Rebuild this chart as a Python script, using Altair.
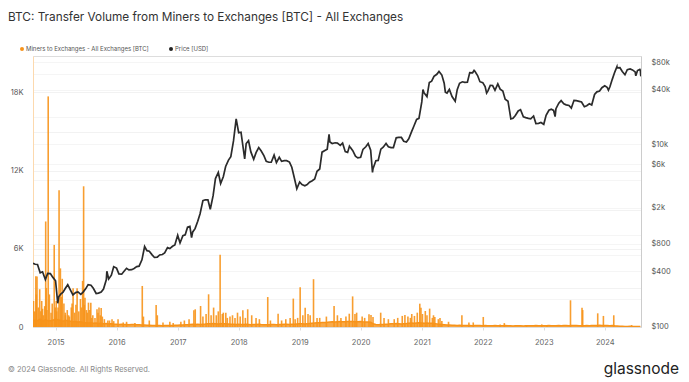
import altair as alt
import pandas as pd

# ---------------- data ----------------
price_dates = [
    "2014-08-19", "2014-09-01", "2014-09-15", "2014-10-01", "2014-10-15", "2014-11-01", "2014-11-15", "2014-12-01", "2014-12-15",
    "2015-01-01", "2015-01-14", "2015-01-20", "2015-02-01", "2015-02-15", "2015-03-01", "2015-03-15", "2015-04-01", "2015-04-15",
    "2015-05-01", "2015-05-15", "2015-06-01", "2015-06-15", "2015-07-01", "2015-07-15", "2015-08-01", "2015-08-15", "2015-09-01",
    "2015-09-15", "2015-10-01", "2015-10-15", "2015-11-01", "2015-11-04", "2015-11-15", "2015-12-01", "2015-12-15",
    "2016-01-01", "2016-01-15", "2016-02-01", "2016-02-15", "2016-03-01", "2016-03-15", "2016-04-01", "2016-04-15", "2016-05-01",
    "2016-05-15", "2016-06-01", "2016-06-17", "2016-07-01", "2016-07-15", "2016-08-01", "2016-08-15", "2016-09-01", "2016-09-15",
    "2016-10-01", "2016-10-15", "2016-11-01", "2016-11-15", "2016-12-01", "2016-12-15",
    "2017-01-01", "2017-01-15", "2017-02-01", "2017-02-15", "2017-03-01", "2017-03-15", "2017-03-25", "2017-04-01", "2017-04-15",
    "2017-05-01", "2017-05-15", "2017-06-01", "2017-06-15", "2017-07-01", "2017-07-15", "2017-08-01", "2017-08-15", "2017-09-01",
    "2017-09-15", "2017-10-01", "2017-10-15", "2017-11-01", "2017-11-15", "2017-12-01", "2017-12-17",
    "2018-01-01", "2018-01-15", "2018-02-06", "2018-02-15", "2018-03-01", "2018-03-15", "2018-04-01", "2018-04-15", "2018-05-01",
    "2018-05-15", "2018-06-01", "2018-06-15", "2018-07-01", "2018-07-15", "2018-08-01", "2018-08-15", "2018-09-01", "2018-09-15",
    "2018-10-01", "2018-10-15", "2018-11-01", "2018-11-15", "2018-12-01", "2018-12-15",
    "2019-01-01", "2019-01-15", "2019-02-01", "2019-02-15", "2019-03-01", "2019-03-15", "2019-04-01", "2019-04-15", "2019-05-01",
    "2019-05-15", "2019-06-01", "2019-06-15", "2019-06-26", "2019-07-01", "2019-07-15", "2019-08-01", "2019-08-15", "2019-09-01",
    "2019-09-15", "2019-10-01", "2019-10-15", "2019-10-26", "2019-11-01", "2019-11-15", "2019-12-01", "2019-12-15",
    "2020-01-01", "2020-01-15", "2020-02-01", "2020-02-15", "2020-03-01", "2020-03-12", "2020-03-15", "2020-04-01", "2020-04-15",
    "2020-05-01", "2020-05-15", "2020-06-01", "2020-06-15", "2020-07-01", "2020-07-15", "2020-08-01", "2020-08-15", "2020-09-01",
    "2020-09-15", "2020-10-01", "2020-10-15", "2020-11-01", "2020-11-15", "2020-12-01", "2020-12-15",
    "2021-01-01", "2021-01-08", "2021-01-15", "2021-02-01", "2021-02-15", "2021-03-01", "2021-03-15", "2021-04-01", "2021-04-14",
    "2021-05-01", "2021-05-15", "2021-05-22", "2021-06-01", "2021-06-15", "2021-07-01", "2021-07-20", "2021-08-01", "2021-08-15",
    "2021-09-01", "2021-09-15", "2021-10-01", "2021-10-15", "2021-11-01", "2021-11-10", "2021-11-15", "2021-12-01", "2021-12-15",
    "2022-01-01", "2022-01-15", "2022-01-24", "2022-02-01", "2022-02-15", "2022-03-01", "2022-03-15", "2022-04-01", "2022-04-15",
    "2022-05-01", "2022-05-15", "2022-06-01", "2022-06-18", "2022-07-01", "2022-07-15", "2022-08-01", "2022-08-15", "2022-09-01",
    "2022-09-15", "2022-10-01", "2022-10-15", "2022-11-01", "2022-11-15", "2022-12-01", "2022-12-15",
    "2023-01-01", "2023-01-15", "2023-02-01", "2023-02-15", "2023-03-01", "2023-03-10", "2023-03-15", "2023-04-01", "2023-04-15",
    "2023-05-01", "2023-05-15", "2023-06-01", "2023-06-15", "2023-07-01", "2023-07-15", "2023-08-01", "2023-08-15", "2023-09-01",
    "2023-09-15", "2023-10-01", "2023-10-15", "2023-11-01", "2023-11-15", "2023-12-01", "2023-12-15",
    "2024-01-01", "2024-01-15", "2024-01-23", "2024-02-01", "2024-02-15", "2024-03-01", "2024-03-14", "2024-03-15", "2024-04-01",
    "2024-04-15", "2024-05-01", "2024-05-15", "2024-06-01", "2024-06-15", "2024-07-01", "2024-07-05", "2024-07-15", "2024-07-29",
    "2024-08-01", "2024-08-04",
]
price_values = [
    490, 478, 475, 385, 395, 325, 380, 378, 345,
    315, 178, 210, 225, 235, 260, 285, 247, 220,
    233, 237, 223, 236, 258, 285, 281, 260, 228,
    230, 237, 255, 325, 400, 330, 362, 450,
    434, 375, 372, 400, 432, 415, 417, 430, 450,
    456, 535, 750, 675, 665, 607, 568, 572, 606,
    613, 638, 730, 711, 755, 780,
    998, 820, 985, 1010, 1222, 1250, 940, 1085, 1180,
    1420, 1720, 2400, 2450, 2450, 1930, 2720, 4200, 4900,
    3700, 4400, 5700, 6700, 7300, 10900, 19100,
    13400, 13600, 6900, 10200, 10950, 8250, 6850, 8100, 9200,
    8500, 7500, 6500, 6350, 6350, 7600, 6300, 7200, 6500,
    6600, 6600, 6380, 5600, 4200, 3250,
    3850, 3600, 3500, 3600, 3830, 3950, 4150, 5050, 5350,
    8200, 8550, 8850, 12900, 10600, 10200, 10400, 10300, 9750,
    10300, 8300, 8150, 9550, 9200, 8500, 7400, 7100,
    7200, 8800, 9400, 10200, 8600, 4900, 5400, 6600, 6650,
    8850, 9300, 10200, 9400, 9200, 9200, 11800, 11900, 11900,
    10800, 10600, 11500, 13800, 15900, 18800, 19300,
    29300, 40000, 36800, 33500, 48000, 49600, 55900, 59000, 63500,
    57800, 47000, 37500, 36700, 40200, 33600, 29800, 39900, 47000,
    48800, 48100, 48200, 61600, 61300, 65000, 63600, 57200, 48900,
    47700, 43100, 36600, 38700, 44500, 44400, 39300, 46300, 40500,
    38500, 31300, 29800, 19000, 19300, 20800, 23300, 24100, 20100,
    19700, 19300, 19100, 20500, 16900, 17000, 17400,
    16600, 20900, 23700, 24300, 23600, 20200, 24700, 28400, 30300,
    28000, 27200, 26800, 25100, 30500, 30300, 29700, 29200, 25900,
    26600, 27900, 27100, 35400, 37800, 38700, 42000,
    44100, 42500, 39500, 43000, 51900, 62400, 71400, 69400, 69700,
    63400, 58300, 66300, 67700, 66000, 62700, 56700, 64800, 66800,
    65300, 56000,
]

# semi-monthly baseline of miner -> exchange flows (BTC)
base_dates = pd.date_range("2014-08-15", "2024-08-01", freq="SMS")
base_values = [
    500, 520, 480, 600, 450, 550, 500, 480, 520,
    600, 550, 500, 450, 520, 480, 450, 400, 420, 380, 400, 350, 330, 300, 320, 280, 300, 260, 280, 250, 260, 240, 250, 230,
    220, 200, 210, 190, 200, 180, 190, 200, 180, 170, 160, 150, 140, 130, 120, 110, 120, 110, 100, 110, 120, 110, 120, 130,
    140, 150, 160, 170, 180, 200, 220, 200, 210, 190, 220, 230, 250, 240, 260, 250, 230, 250, 260, 240, 230, 220, 210, 200,
    220, 200, 190, 210, 200, 180, 190, 200, 210, 190, 180, 170, 180, 190, 200, 180, 190, 200, 210, 220, 200, 210, 220, 230,
    240, 250, 230, 240, 260, 280, 300, 320, 330, 340, 350, 360, 380, 400, 390, 410, 420, 400, 410, 420, 430, 420, 410, 400,
    420, 400, 390, 380, 360, 250, 200, 180, 190, 200, 220, 230, 250, 240, 260, 250, 230, 250, 260, 280, 300, 280, 300, 320,
    300, 280, 300, 290, 280, 260, 240, 220, 200, 180, 160, 150, 140, 130, 120, 130, 120, 110, 120, 110, 100, 110, 120, 110,
    100, 110, 100, 90, 100, 110, 100, 90, 100, 110, 100, 90, 80, 90, 100, 90, 80, 90, 100, 90, 100, 110, 100, 90,
    90, 100, 110, 100, 90, 100, 110, 100, 120, 110, 100, 110, 120, 110, 100, 90, 100, 110, 100, 110, 120, 110, 130, 120,
    120, 110, 100, 110, 90, 80, 60, 50, 40, 40, 50, 40, 30, 40, 30,
]

# daily spikes of miner -> exchange flows (BTC)
spike_dates = [
    "2014-08-22", "2014-08-28", "2014-09-05", "2014-09-08", "2014-09-12", "2014-09-20", "2014-09-28", "2014-10-05",
    "2014-10-10", "2014-10-15", "2014-10-20", "2014-10-28", "2014-11-03", "2014-11-07", "2014-11-10", "2014-11-18",
    "2014-11-25", "2014-12-05", "2014-12-12", "2014-12-24", "2014-12-30",
    "2015-01-05", "2015-01-08", "2015-01-16", "2015-01-22", "2015-01-30", "2015-02-05", "2015-02-10", "2015-02-20",
    "2015-02-28", "2015-03-01", "2015-03-12", "2015-03-20", "2015-03-25", "2015-04-05", "2015-04-10", "2015-04-16",
    "2015-04-25", "2015-05-03", "2015-05-10", "2015-05-20", "2015-05-30", "2015-06-05", "2015-06-12", "2015-06-18",
    "2015-06-22", "2015-06-26", "2015-07-05", "2015-07-10", "2015-07-17", "2015-07-25", "2015-07-31", "2015-08-05",
    "2015-08-12", "2015-08-25", "2015-09-06", "2015-09-12", "2015-09-18", "2015-09-26", "2015-10-01", "2015-10-08",
    "2015-10-20", "2015-11-10", "2015-11-20", "2015-12-05", "2015-12-15",
    "2016-01-10", "2016-02-10", "2016-03-01", "2016-04-20", "2016-06-03", "2016-06-10", "2016-07-15", "2016-08-25",
    "2016-09-01", "2016-10-05", "2016-11-15", "2016-12-05",
    "2017-01-20", "2017-02-10", "2017-03-10", "2017-04-08", "2017-04-16", "2017-05-18", "2017-06-01", "2017-06-20",
    "2017-07-05", "2017-07-20", "2017-08-04", "2017-08-20", "2017-09-01", "2017-09-12", "2017-09-25", "2017-10-01",
    "2017-10-16", "2017-10-25", "2017-11-10", "2017-11-25", "2017-12-10", "2017-12-25",
    "2018-01-10", "2018-01-26", "2018-02-10", "2018-02-24", "2018-03-20", "2018-04-15", "2018-05-05", "2018-06-24",
    "2018-07-10", "2018-08-25", "2018-09-15", "2018-10-10", "2018-11-05", "2018-11-24", "2018-12-05", "2018-12-20",
    "2019-01-04", "2019-01-20", "2019-02-03", "2019-02-20", "2019-03-05", "2019-03-25", "2019-04-15", "2019-05-01",
    "2019-06-10", "2019-07-26", "2019-08-15", "2019-09-05", "2019-10-05", "2019-10-25", "2019-11-14", "2019-11-28",
    "2019-12-08",
    "2020-01-10", "2020-01-25", "2020-02-20", "2020-03-03", "2020-03-15", "2020-04-30", "2020-05-20", "2020-06-15",
    "2020-07-20", "2020-08-10", "2020-09-06", "2020-09-22", "2020-10-10", "2020-10-25", "2020-11-02", "2020-11-18",
    "2020-12-05", "2020-12-20", "2020-12-27",
    "2021-01-05", "2021-01-22", "2021-02-01", "2021-02-17", "2021-03-05", "2021-03-12", "2021-03-20", "2021-04-10",
    "2021-04-20", "2021-05-01", "2021-06-10", "2021-08-29", "2021-10-10", "2021-11-05",
    "2022-01-04", "2022-04-15", "2022-05-10", "2022-09-20", "2022-12-20",
    "2023-01-20", "2023-06-10", "2023-08-18", "2023-08-22", "2023-11-20", "2023-12-24",
    "2024-02-24", "2024-06-10",
]
spike_values = [
    2000, 1200, 3900, 2500, 3870, 1500, 2900, 1200,
    2000, 1400, 900, 1600, 8100, 3000, 1300, 17700,
    2500, 1100, 1800, 6300, 1500,
    2000, 1200, 1500, 10500, 4500, 2300, 3700, 1800,
    1100, 900, 1300, 900, 800, 1500, 1800, 2970,
    1100, 1700, 2970, 1200, 2150, 1500, 3540, 10800,
    1700, 2250, 1300, 1100, 1870, 1300, 1870, 700,
    900, 700, 1360, 1100, 1490, 900, 1450, 800,
    600, 500, 500, 600, 450,
    590, 350, 400, 300, 3150, 800, 500, 1690,
    900, 350, 400, 300,
    400, 500, 600, 1280, 1360, 1610, 800, 1000,
    2510, 900, 1490, 900, 1200, 5540, 1000, 1100,
    1100, 700, 800, 900, 700, 1100,
    800, 1280, 700, 1360, 900, 700, 600, 2300,
    500, 1020, 500, 600, 700, 2180, 600, 700,
    3050, 900, 1480, 1000, 900, 3670, 700, 700,
    800, 1610, 900, 700, 800, 1020, 2350, 1000,
    1100,
    800, 700, 980, 920, 770, 1100, 700, 600,
    600, 700, 850, 920, 800, 700, 1000, 850,
    1100, 1790, 1480,
    1000, 1230, 900, 1410, 700, 900, 770, 600,
    700, 460, 400, 900, 350, 350,
    770, 200, 300, 150, 200,
    150, 2050, 1480, 1300, 1050, 850,
    900, 150,
]

year_ticks = list(range(2015, 2025))
left_ticks = [0, 3000, 6000, 9000, 12000, 15000, 18000]
right_grid = [100, 200, 400, 600, 800, 1000, 2000, 4000, 6000, 10000, 20000, 40000, 60000, 80000]
right_labels = [100, 400, 800, 2000, 6000, 10000, 40000, 80000]

# ---------------- frames ----------------
price_df = pd.DataFrame({"date": pd.to_datetime(price_dates), "price": price_values})
base_df = pd.DataFrame({"date": base_dates, "flow": base_values})
spike_df = pd.DataFrame({"date": pd.to_datetime(spike_dates), "flow": spike_values})

ORANGE = "#f7931a"
FONT = "Inter"
W, H = 608, 271

x_scale = alt.Scale(domain=[alt.DateTime(year=2014, month=8, date=19), alt.DateTime(year=2024, month=8, date=5)])
x_axis = alt.Axis(
    values=[alt.DateTime(year=y, month=1, date=1) for y in year_ticks],
    format="%Y", title=None, grid=False, labelFontSize=7.5, labelColor="#666", labelFont=FONT,
    domainColor="#dddddd", tickColor="#dddddd", tickSize=3, labelPadding=8,
)

left_scale = alt.Scale(domain=[0, 20800], nice=False)
left_axis = alt.Axis(
    values=left_ticks, title=None, orient="left",
    labelExpr="datum.value == 0 ? '0' : (datum.value % 6000 == 0 ? (datum.value / 1000) + 'K' : '')",
    labelFontSize=7.5, labelColor="#555", labelFont=FONT, labelPadding=10,
    tickSize=0, domainColor="#fcd9ae", grid=True, gridColor="#efefef", gridWidth=0.8,
)

right_scale = alt.Scale(type="log", domain=[97.5, 93800], nice=False)
label_list = ",".join(str(v) for v in right_labels)
right_axis = alt.Axis(
    values=right_grid, title=None, orient="right",
    labelExpr="indexof([" + label_list + "], datum.value) < 0 ? '' : "
              "(datum.value >= 1000 ? '$' + (datum.value / 1000) + 'k' : '$' + datum.value)",
    labelFontSize=7.5, labelColor="#555", labelFont=FONT, labelPadding=10,
    tickSize=0, domainColor="#cccccc", grid=True, gridColor="#f2f2f2", gridWidth=0.8,
)

base_area = alt.Chart(base_df).mark_area(color=ORANGE, opacity=0.8, clip=True).encode(
    x=alt.X("date:T", scale=x_scale, axis=x_axis),
    y=alt.Y("flow:Q", scale=left_scale, axis=left_axis),
)
base_line = alt.Chart(base_df).mark_line(color=ORANGE, strokeWidth=1.5, clip=True).encode(
    x=alt.X("date:T", scale=x_scale),
    y=alt.Y("flow:Q", scale=left_scale),
)
spikes = alt.Chart(spike_df).mark_rule(color=ORANGE, strokeWidth=1.6, opacity=0.9, clip=True).encode(
    x=alt.X("date:T", scale=x_scale),
    y=alt.Y("flow:Q", scale=left_scale),
    y2=alt.datum(0),
)
flows = alt.layer(base_area, spikes, base_line)

price = alt.Chart(price_df).mark_line(color="#2b2b2b", strokeWidth=1.7, clip=True).encode(
    x=alt.X("date:T", scale=x_scale),
    y=alt.Y("price:Q", scale=right_scale, axis=right_axis),
)


def txt(s, x, y, size, color, align="left", weight="normal"):
    return alt.Chart(pd.DataFrame({"t": [s]})).mark_text(
        align=align, baseline="middle", fontSize=size, color=color, font=FONT, fontWeight=weight
    ).encode(x=alt.value(x), y=alt.value(y), text="t:N")


def dot(x, y, color):
    return alt.Chart(pd.DataFrame({"t": [0]})).mark_point(
        filled=True, size=16, color=color, opacity=1
    ).encode(x=alt.value(x), y=alt.value(y))


texts = [
    txt("BTC: Transfer Volume from Miners to Exchanges [BTC] - All Exchanges", -25, -39, 11.8, "#333333"),
    dot(-11, -7, ORANGE),
    txt("Miners to Exchanges - All Exchanges [BTC]", -7, -7, 6, "#555555"),
    dot(138, -7, "#222222"),
    txt("Price [USD]", 142, -7, 6, "#555555"),
    txt("© 2024 Glassnode. All Rights Reserved.", -25, 314, 7.5, "#888888"),
    txt("glassnode", 646, 313, 15.5, "#222222", align="right"),
]

chart = alt.layer(flows, price, *texts).resolve_scale(y="independent").properties(
    width=W, height=H,
    autosize=alt.AutoSizeParams(type="none"),
    padding={"left": 25, "top": 48, "right": 40, "bottom": 55},
).configure_view(stroke="#eeeeee").configure(background="white")

chart.save("out.html", embed_options={"renderer": "svg", "actions": False})
